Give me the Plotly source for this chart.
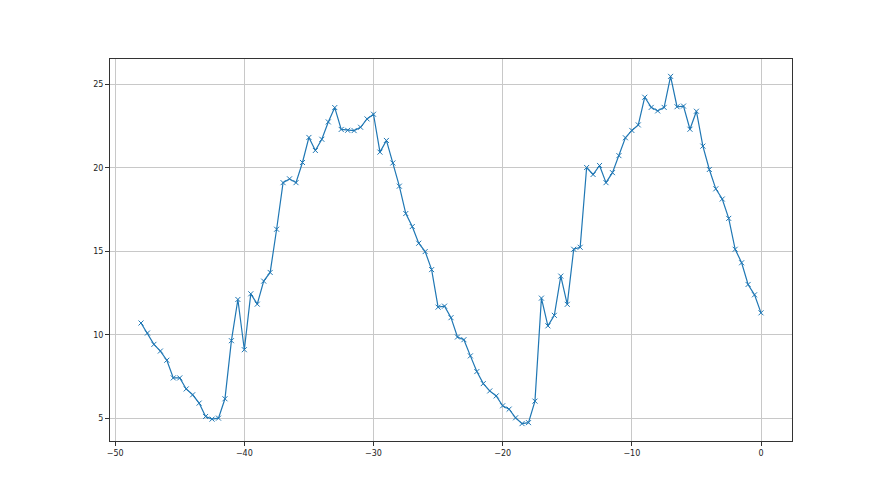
import plotly.graph_objects as go

x_vals = [i * 0.5 - 48 for i in range(97)]
y_vals = [
    10.70, 10.10, 9.42, 9.02, 8.47, 7.41, 7.41, 6.75, 6.40, 5.90,
    5.10, 4.94, 5.00, 6.16, 9.64, 12.11, 9.10, 12.45, 11.83, 13.21,
    13.73, 16.32, 19.11, 19.34, 19.11, 20.32, 21.82, 21.04, 21.71, 22.75,
    23.61, 22.30, 22.25, 22.23, 22.43, 22.93, 23.21, 20.94, 21.64, 20.29,
    18.90, 17.26, 16.48, 15.48, 14.98, 13.90, 11.65, 11.71, 11.02, 9.86,
    9.70, 8.73, 7.79, 7.07, 6.63, 6.33, 5.74, 5.54, 5.02, 4.67,
    4.73, 6.02, 12.19, 10.53, 11.16, 13.51, 11.82, 15.12, 15.24, 20.02,
    19.60, 20.14, 19.11, 19.71, 20.73, 21.80, 22.24, 22.57, 24.23, 23.62,
    23.41, 23.62, 25.48, 23.66, 23.70, 22.31, 23.39, 21.30, 19.90, 18.74,
    18.13, 16.97, 15.12, 14.31, 13.01, 12.39, 11.31,
]

x_ticks = [-50, -40, -30, -20, -10, 0]
y_ticks = [5, 10, 15, 20, 25]

xmin, xmax = min(x_vals), max(x_vals)
ymin, ymax = min(y_vals), max(y_vals)
xpad = (xmax - xmin) * 0.05
ypad = (ymax - ymin) * 0.05

fig = go.Figure(
    go.Scatter(
        x=x_vals, y=y_vals, mode="lines+markers",
        line=dict(color="#1f77b4", width=1.2),
        marker=dict(symbol="x-thin-open", size=5, color="#1f77b4",
                    line=dict(color="#1f77b4", width=1)),
    )
)

axis_common = dict(
    showgrid=True, gridcolor="#c8c8c8", gridwidth=1,
    showline=True, linecolor="#333333", linewidth=1, mirror=True,
    ticks="outside", ticklen=4, tickcolor="#333333", tickwidth=1,
    zeroline=False,
    tickfont=dict(family="DejaVu Sans", size=8, color="#222222"),
)

fig.update_layout(
    width=880, height=495,
    margin=dict(l=102, r=96, t=51, b=62),
    paper_bgcolor="white", plot_bgcolor="white",
    showlegend=False,
    xaxis=dict(range=[xmin - xpad, xmax + xpad], tickvals=x_ticks, **axis_common),
    yaxis=dict(range=[ymin - ypad, ymax + ypad], tickvals=y_ticks, **axis_common),
)

fig.write_html("out.html")
